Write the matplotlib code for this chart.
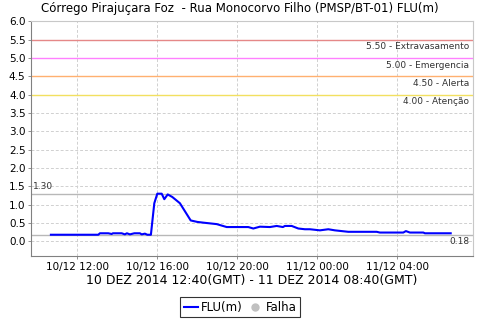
import matplotlib
matplotlib.use("Agg")
import matplotlib.pyplot as plt
from matplotlib.lines import Line2D

# hours counted from 10/12 00:00 (local time)
hours = [10.68, 13.05, 13.13, 13.55, 13.72, 13.78, 14.22, 14.38, 14.48, 14.63,
         14.85, 15.13, 15.22, 15.38, 15.50, 15.68, 15.85, 16.00, 16.22, 16.35,
         16.52, 16.75, 16.93, 17.13, 17.67, 18.00, 18.30, 18.97, 19.47, 20.55,
         20.80, 21.13, 21.63, 21.97, 22.28, 22.38, 22.72, 23.05, 23.38, 23.63,
         24.13, 24.55, 24.88, 25.55, 26.97, 27.13, 28.30, 28.43, 28.63, 29.30,
         29.38, 30.67]
flu = [0.18, 0.18, 0.22, 0.22, 0.20, 0.22, 0.22, 0.19, 0.22, 0.19,
       0.22, 0.22, 0.19, 0.21, 0.18, 0.18, 1.04, 1.30, 1.30, 1.15,
       1.28, 1.21, 1.13, 1.04, 0.57, 0.53, 0.51, 0.47, 0.39, 0.39,
       0.35, 0.40, 0.39, 0.42, 0.39, 0.42, 0.42, 0.35, 0.33, 0.33,
       0.30, 0.33, 0.30, 0.26, 0.26, 0.24, 0.24, 0.28, 0.24, 0.24,
       0.22, 0.22]

tick_hours = [12, 16, 20, 24, 28]
tick_labels = ["10/12 12:00", "10/12 16:00", "10/12 20:00", "11/12 00:00", "11/12 04:00"]

levels = [5.5, 5.0, 4.5, 4.0]
level_names = ["5.50 - Extravasamento", "5.00 - Emergencia", "4.50 - Alerta", "4.00 - Atenção"]
level_colors = ["#e58888", "#ff80ff", "#ffb070", "#f2e060"]

fig = plt.figure(figsize=(4.8, 3.2), dpi=100)
ax = fig.add_axes([31/480, 0.2, 442/480, 0.733])

ax.set_xlim(9.685, 31.785)
ax.set_ylim(-0.4, 6.0)
ax.set_yticks([i * 0.5 for i in range(13)])
ax.set_yticklabels(["%.1f" % (i * 0.5) for i in range(13)], fontsize=7.5)
ax.set_xticks(tick_hours)
ax.set_xticklabels(tick_labels, fontsize=7.5)
ax.grid(True, color="#d0d0d0", linestyle=(0, (3, 2)), linewidth=0.7)
ax.tick_params(length=2, width=0.6, color="#808080", pad=2)

for s in ["left", "bottom"]:
    ax.spines[s].set_color("#808080")
for s in ["top", "right"]:
    ax.spines[s].set_color("#c8c8c8")

for lv, nm, c in zip(levels, level_names, level_colors):
    ax.axhline(lv, color=c, linewidth=1.0)
    ax.text(31.6, lv - 0.07, nm, ha="right", va="top", fontsize=6.5, color="#333333")

vmax = max(flu)
vmin = min(flu)
ax.axhline(vmax, color="#b8b8b8", linewidth=1.0)
ax.axhline(vmin, color="#b8b8b8", linewidth=1.0)
ax.text(9.8, vmax + 0.06, "%.2f" % vmax, ha="left", va="bottom", fontsize=6.5, color="#333333")
ax.text(31.6, vmin - 0.06, "%.2f" % vmin, ha="right", va="top", fontsize=6.5, color="#333333")

ax.plot(hours, flu, color="#0000ff", linewidth=1.5)

fig.text(0.5, 0.972, "Córrego Pirajuçara Foz  - Rua Monocorvo Filho (PMSP/BT-01) FLU(m)",
         ha="center", va="center", fontsize=8.5)
ax.set_xlabel("10 DEZ 2014 12:40(GMT) - 11 DEZ 2014 08:40(GMT)", fontsize=9, labelpad=2)

handles = [Line2D([], [], color="#0000ff", linewidth=1.5),
           Line2D([], [], color="#c0c0c0", marker="o", linestyle="none", markersize=5)]
leg = fig.legend(handles, ["FLU(m)", "Falha"], loc="center", bbox_to_anchor=(0.5, 0.04),
                 ncol=2, fontsize=8.5, frameon=True, fancybox=False, handlelength=1.2,
                 handletextpad=0.3, columnspacing=0.4, borderpad=0.3)
leg.get_frame().set_edgecolor("black")
leg.get_frame().set_linewidth(0.8)

fig.savefig("out.png", dpi=100)
